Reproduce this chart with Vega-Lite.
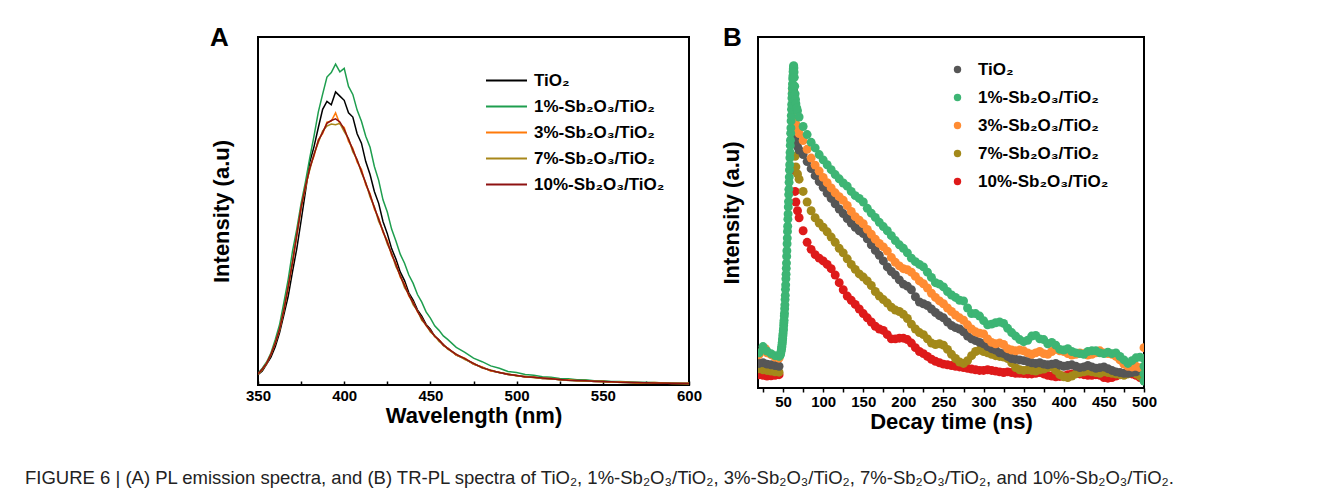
{
"$schema": "https://vega.github.io/schema/vega-lite/v6.json",
"background": "white",
"padding": {"left": 25, "top": 24, "right": 5, "bottom": 5},
"config": {
  "font": "Liberation Sans",
  "view": {"stroke": "#000", "strokeWidth": 2},
  "axis": {"labelFont": "Liberation Sans", "labelFontWeight": "bold", "labelFontSize": 15, "labelColor": "#000", "titleFont": "Liberation Sans", "titleFontWeight": "bold", "titleFontSize": 22, "titleColor": "#000", "grid": false, "domain": false, "tickColor": "#000", "tickWidth": 1.5},
  "legend": {"labelFont": "Liberation Sans", "labelFontWeight": "bold", "labelFontSize": 17, "labelColor": "#000", "labelLimit": 300}
},
"title": {"text": "FIGURE 6 | (A) PL emission spectra, and (B) TR-PL spectra of TiO₂, 1%-Sb₂O₃/TiO₂, 3%-Sb₂O₃/TiO₂, 7%-Sb₂O₃/TiO₂, and 10%-Sb₂O₃/TiO₂.", "orient": "bottom", "anchor": "start", "frame": "group", "font": "Liberation Sans", "fontSize": 18.5, "fontWeight": "normal", "color": "#222", "offset": 36, "dx": -233},
"spacing": 16,
"resolve": {"scale": {"color": "independent"}, "legend": {"color": "independent"}},
"hconcat": [
{
  "width": 431, "height": 348,
  "title": {"text": "A", "anchor": "start", "frame": "group", "fontSize": 26, "fontWeight": "bold", "font": "Liberation Sans", "color": "#000", "dx": -48, "offset": -35, "baseline": "alphabetic"},
  "data": {"values": [
{"sample":"TiO₂","wavelength":350,"intensity":30},{"sample":"TiO₂","wavelength":352.5,"intensity":40},{"sample":"TiO₂","wavelength":355,"intensity":60},{"sample":"TiO₂","wavelength":357.5,"intensity":80},{"sample":"TiO₂","wavelength":360,"intensity":110},{"sample":"TiO₂","wavelength":362.5,"intensity":150},{"sample":"TiO₂","wavelength":365,"intensity":202},{"sample":"TiO₂","wavelength":367.5,"intensity":255},{"sample":"TiO₂","wavelength":370,"intensity":325},{"sample":"TiO₂","wavelength":372.5,"intensity":392},{"sample":"TiO₂","wavelength":375,"intensity":472},{"sample":"TiO₂","wavelength":377.5,"intensity":555},{"sample":"TiO₂","wavelength":380,"intensity":640},{"sample":"TiO₂","wavelength":382.5,"intensity":685},{"sample":"TiO₂","wavelength":385,"intensity":740},{"sample":"TiO₂","wavelength":387.5,"intensity":792},{"sample":"TiO₂","wavelength":390,"intensity":815},{"sample":"TiO₂","wavelength":392.5,"intensity":805},{"sample":"TiO₂","wavelength":395,"intensity":842},{"sample":"TiO₂","wavelength":397.5,"intensity":830},{"sample":"TiO₂","wavelength":400,"intensity":818},{"sample":"TiO₂","wavelength":402.5,"intensity":782},{"sample":"TiO₂","wavelength":405,"intensity":770},{"sample":"TiO₂","wavelength":407.5,"intensity":722},{"sample":"TiO₂","wavelength":410,"intensity":695},{"sample":"TiO₂","wavelength":412.5,"intensity":642},{"sample":"TiO₂","wavelength":415,"intensity":605},{"sample":"TiO₂","wavelength":417.5,"intensity":556},{"sample":"TiO₂","wavelength":420,"intensity":522},{"sample":"TiO₂","wavelength":422.5,"intensity":470},{"sample":"TiO₂","wavelength":425,"intensity":435},{"sample":"TiO₂","wavelength":427.5,"intensity":392},{"sample":"TiO₂","wavelength":430,"intensity":362},{"sample":"TiO₂","wavelength":432.5,"intensity":325},{"sample":"TiO₂","wavelength":435,"intensity":300},{"sample":"TiO₂","wavelength":437.5,"intensity":265},{"sample":"TiO₂","wavelength":440,"intensity":244},{"sample":"TiO₂","wavelength":442.5,"intensity":216},{"sample":"TiO₂","wavelength":445,"intensity":198},{"sample":"TiO₂","wavelength":447.5,"intensity":174},{"sample":"TiO₂","wavelength":450,"intensity":160},{"sample":"TiO₂","wavelength":452.5,"intensity":140},{"sample":"TiO₂","wavelength":455,"intensity":130},{"sample":"TiO₂","wavelength":457.5,"intensity":114},{"sample":"TiO₂","wavelength":460,"intensity":106},{"sample":"TiO₂","wavelength":465,"intensity":86},{"sample":"TiO₂","wavelength":470,"intensity":75},{"sample":"TiO₂","wavelength":475,"intensity":60},{"sample":"TiO₂","wavelength":480,"intensity":51},{"sample":"TiO₂","wavelength":485,"intensity":41},{"sample":"TiO₂","wavelength":490,"intensity":36},{"sample":"TiO₂","wavelength":495,"intensity":30},{"sample":"TiO₂","wavelength":500,"intensity":27},{"sample":"TiO₂","wavelength":505,"intensity":23},{"sample":"TiO₂","wavelength":510,"intensity":22},{"sample":"TiO₂","wavelength":515,"intensity":19},{"sample":"TiO₂","wavelength":520,"intensity":18},{"sample":"TiO₂","wavelength":525,"intensity":15},{"sample":"TiO₂","wavelength":530,"intensity":14},{"sample":"TiO₂","wavelength":535,"intensity":12},{"sample":"TiO₂","wavelength":540,"intensity":12},{"sample":"TiO₂","wavelength":545,"intensity":10},{"sample":"TiO₂","wavelength":550,"intensity":10},{"sample":"TiO₂","wavelength":555,"intensity":8},{"sample":"TiO₂","wavelength":560,"intensity":8},{"sample":"TiO₂","wavelength":570,"intensity":6},{"sample":"TiO₂","wavelength":580,"intensity":6},{"sample":"TiO₂","wavelength":590,"intensity":4},{"sample":"TiO₂","wavelength":600,"intensity":4},
{"sample":"1%-Sb₂O₃/TiO₂","wavelength":350,"intensity":33},{"sample":"1%-Sb₂O₃/TiO₂","wavelength":352.5,"intensity":48},{"sample":"1%-Sb₂O₃/TiO₂","wavelength":355,"intensity":66},{"sample":"1%-Sb₂O₃/TiO₂","wavelength":357.5,"intensity":92},{"sample":"1%-Sb₂O₃/TiO₂","wavelength":360,"intensity":130},{"sample":"1%-Sb₂O₃/TiO₂","wavelength":362.5,"intensity":173},{"sample":"1%-Sb₂O₃/TiO₂","wavelength":365,"intensity":237},{"sample":"1%-Sb₂O₃/TiO₂","wavelength":367.5,"intensity":303},{"sample":"1%-Sb₂O₃/TiO₂","wavelength":370,"intensity":384},{"sample":"1%-Sb₂O₃/TiO₂","wavelength":372.5,"intensity":448},{"sample":"1%-Sb₂O₃/TiO₂","wavelength":375,"intensity":522},{"sample":"1%-Sb₂O₃/TiO₂","wavelength":377.5,"intensity":583},{"sample":"1%-Sb₂O₃/TiO₂","wavelength":380,"intensity":652},{"sample":"1%-Sb₂O₃/TiO₂","wavelength":382.5,"intensity":716},{"sample":"1%-Sb₂O₃/TiO₂","wavelength":385,"intensity":785},{"sample":"1%-Sb₂O₃/TiO₂","wavelength":387.5,"intensity":836},{"sample":"1%-Sb₂O₃/TiO₂","wavelength":390,"intensity":885},{"sample":"1%-Sb₂O₃/TiO₂","wavelength":392.5,"intensity":898},{"sample":"1%-Sb₂O₃/TiO₂","wavelength":395,"intensity":922},{"sample":"1%-Sb₂O₃/TiO₂","wavelength":397.5,"intensity":900},{"sample":"1%-Sb₂O₃/TiO₂","wavelength":400,"intensity":910},{"sample":"1%-Sb₂O₃/TiO₂","wavelength":402.5,"intensity":858},{"sample":"1%-Sb₂O₃/TiO₂","wavelength":405,"intensity":835},{"sample":"1%-Sb₂O₃/TiO₂","wavelength":407.5,"intensity":790},{"sample":"1%-Sb₂O₃/TiO₂","wavelength":410,"intensity":758},{"sample":"1%-Sb₂O₃/TiO₂","wavelength":412.5,"intensity":715},{"sample":"1%-Sb₂O₃/TiO₂","wavelength":415,"intensity":683},{"sample":"1%-Sb₂O₃/TiO₂","wavelength":417.5,"intensity":628},{"sample":"1%-Sb₂O₃/TiO₂","wavelength":420,"intensity":588},{"sample":"1%-Sb₂O₃/TiO₂","wavelength":422.5,"intensity":532},{"sample":"1%-Sb₂O₃/TiO₂","wavelength":425,"intensity":497},{"sample":"1%-Sb₂O₃/TiO₂","wavelength":427.5,"intensity":448},{"sample":"1%-Sb₂O₃/TiO₂","wavelength":430,"intensity":414},{"sample":"1%-Sb₂O₃/TiO₂","wavelength":432.5,"intensity":376},{"sample":"1%-Sb₂O₃/TiO₂","wavelength":435,"intensity":350},{"sample":"1%-Sb₂O₃/TiO₂","wavelength":437.5,"intensity":316},{"sample":"1%-Sb₂O₃/TiO₂","wavelength":440,"intensity":292},{"sample":"1%-Sb₂O₃/TiO₂","wavelength":442.5,"intensity":260},{"sample":"1%-Sb₂O₃/TiO₂","wavelength":445,"intensity":238},{"sample":"1%-Sb₂O₃/TiO₂","wavelength":447.5,"intensity":210},{"sample":"1%-Sb₂O₃/TiO₂","wavelength":450,"intensity":192},{"sample":"1%-Sb₂O₃/TiO₂","wavelength":452.5,"intensity":170},{"sample":"1%-Sb₂O₃/TiO₂","wavelength":455,"intensity":157},{"sample":"1%-Sb₂O₃/TiO₂","wavelength":457.5,"intensity":141},{"sample":"1%-Sb₂O₃/TiO₂","wavelength":460,"intensity":131},{"sample":"1%-Sb₂O₃/TiO₂","wavelength":465,"intensity":108},{"sample":"1%-Sb₂O₃/TiO₂","wavelength":470,"intensity":94},{"sample":"1%-Sb₂O₃/TiO₂","wavelength":475,"intensity":77},{"sample":"1%-Sb₂O₃/TiO₂","wavelength":480,"intensity":67},{"sample":"1%-Sb₂O₃/TiO₂","wavelength":485,"intensity":55},{"sample":"1%-Sb₂O₃/TiO₂","wavelength":490,"intensity":48},{"sample":"1%-Sb₂O₃/TiO₂","wavelength":495,"intensity":39},{"sample":"1%-Sb₂O₃/TiO₂","wavelength":500,"intensity":36},{"sample":"1%-Sb₂O₃/TiO₂","wavelength":505,"intensity":30},{"sample":"1%-Sb₂O₃/TiO₂","wavelength":510,"intensity":28},{"sample":"1%-Sb₂O₃/TiO₂","wavelength":515,"intensity":24},{"sample":"1%-Sb₂O₃/TiO₂","wavelength":520,"intensity":22},{"sample":"1%-Sb₂O₃/TiO₂","wavelength":525,"intensity":19},{"sample":"1%-Sb₂O₃/TiO₂","wavelength":530,"intensity":18},{"sample":"1%-Sb₂O₃/TiO₂","wavelength":535,"intensity":15},{"sample":"1%-Sb₂O₃/TiO₂","wavelength":540,"intensity":15},{"sample":"1%-Sb₂O₃/TiO₂","wavelength":545,"intensity":12},{"sample":"1%-Sb₂O₃/TiO₂","wavelength":550,"intensity":12},{"sample":"1%-Sb₂O₃/TiO₂","wavelength":555,"intensity":10},{"sample":"1%-Sb₂O₃/TiO₂","wavelength":560,"intensity":10},{"sample":"1%-Sb₂O₃/TiO₂","wavelength":570,"intensity":8},{"sample":"1%-Sb₂O₃/TiO₂","wavelength":580,"intensity":7},{"sample":"1%-Sb₂O₃/TiO₂","wavelength":590,"intensity":5},{"sample":"1%-Sb₂O₃/TiO₂","wavelength":600,"intensity":5},
{"sample":"3%-Sb₂O₃/TiO₂","wavelength":350,"intensity":32},{"sample":"3%-Sb₂O₃/TiO₂","wavelength":352.5,"intensity":44},{"sample":"3%-Sb₂O₃/TiO₂","wavelength":355,"intensity":63},{"sample":"3%-Sb₂O₃/TiO₂","wavelength":357.5,"intensity":87},{"sample":"3%-Sb₂O₃/TiO₂","wavelength":360,"intensity":121},{"sample":"3%-Sb₂O₃/TiO₂","wavelength":362.5,"intensity":158},{"sample":"3%-Sb₂O₃/TiO₂","wavelength":365,"intensity":214},{"sample":"3%-Sb₂O₃/TiO₂","wavelength":367.5,"intensity":280},{"sample":"3%-Sb₂O₃/TiO₂","wavelength":370,"intensity":350},{"sample":"3%-Sb₂O₃/TiO₂","wavelength":372.5,"intensity":430},{"sample":"3%-Sb₂O₃/TiO₂","wavelength":375,"intensity":508},{"sample":"3%-Sb₂O₃/TiO₂","wavelength":377.5,"intensity":566},{"sample":"3%-Sb₂O₃/TiO₂","wavelength":380,"intensity":624},{"sample":"3%-Sb₂O₃/TiO₂","wavelength":382.5,"intensity":658},{"sample":"3%-Sb₂O₃/TiO₂","wavelength":385,"intensity":705},{"sample":"3%-Sb₂O₃/TiO₂","wavelength":387.5,"intensity":722},{"sample":"3%-Sb₂O₃/TiO₂","wavelength":390,"intensity":755},{"sample":"3%-Sb₂O₃/TiO₂","wavelength":392.5,"intensity":758},{"sample":"3%-Sb₂O₃/TiO₂","wavelength":395,"intensity":782},{"sample":"3%-Sb₂O₃/TiO₂","wavelength":397.5,"intensity":750},{"sample":"3%-Sb₂O₃/TiO₂","wavelength":400,"intensity":740},{"sample":"3%-Sb₂O₃/TiO₂","wavelength":402.5,"intensity":700},{"sample":"3%-Sb₂O₃/TiO₂","wavelength":405,"intensity":680},{"sample":"3%-Sb₂O₃/TiO₂","wavelength":407.5,"intensity":640},{"sample":"3%-Sb₂O₃/TiO₂","wavelength":410,"intensity":620},{"sample":"3%-Sb₂O₃/TiO₂","wavelength":412.5,"intensity":575},{"sample":"3%-Sb₂O₃/TiO₂","wavelength":415,"intensity":550},{"sample":"3%-Sb₂O₃/TiO₂","wavelength":417.5,"intensity":505},{"sample":"3%-Sb₂O₃/TiO₂","wavelength":420,"intensity":480},{"sample":"3%-Sb₂O₃/TiO₂","wavelength":422.5,"intensity":438},{"sample":"3%-Sb₂O₃/TiO₂","wavelength":425,"intensity":415},{"sample":"3%-Sb₂O₃/TiO₂","wavelength":427.5,"intensity":372},{"sample":"3%-Sb₂O₃/TiO₂","wavelength":430,"intensity":350},{"sample":"3%-Sb₂O₃/TiO₂","wavelength":432.5,"intensity":310},{"sample":"3%-Sb₂O₃/TiO₂","wavelength":435,"intensity":290},{"sample":"3%-Sb₂O₃/TiO₂","wavelength":437.5,"intensity":255},{"sample":"3%-Sb₂O₃/TiO₂","wavelength":440,"intensity":238},{"sample":"3%-Sb₂O₃/TiO₂","wavelength":442.5,"intensity":210},{"sample":"3%-Sb₂O₃/TiO₂","wavelength":445,"intensity":192},{"sample":"3%-Sb₂O₃/TiO₂","wavelength":447.5,"intensity":170},{"sample":"3%-Sb₂O₃/TiO₂","wavelength":450,"intensity":157},{"sample":"3%-Sb₂O₃/TiO₂","wavelength":452.5,"intensity":139},{"sample":"3%-Sb₂O₃/TiO₂","wavelength":455,"intensity":130},{"sample":"3%-Sb₂O₃/TiO₂","wavelength":457.5,"intensity":114},{"sample":"3%-Sb₂O₃/TiO₂","wavelength":460,"intensity":106},{"sample":"3%-Sb₂O₃/TiO₂","wavelength":465,"intensity":86},{"sample":"3%-Sb₂O₃/TiO₂","wavelength":470,"intensity":77},{"sample":"3%-Sb₂O₃/TiO₂","wavelength":475,"intensity":60},{"sample":"3%-Sb₂O₃/TiO₂","wavelength":480,"intensity":52},{"sample":"3%-Sb₂O₃/TiO₂","wavelength":485,"intensity":40},{"sample":"3%-Sb₂O₃/TiO₂","wavelength":490,"intensity":37},{"sample":"3%-Sb₂O₃/TiO₂","wavelength":495,"intensity":30},{"sample":"3%-Sb₂O₃/TiO₂","wavelength":500,"intensity":28},{"sample":"3%-Sb₂O₃/TiO₂","wavelength":505,"intensity":23},{"sample":"3%-Sb₂O₃/TiO₂","wavelength":510,"intensity":23},{"sample":"3%-Sb₂O₃/TiO₂","wavelength":515,"intensity":19},{"sample":"3%-Sb₂O₃/TiO₂","wavelength":520,"intensity":19},{"sample":"3%-Sb₂O₃/TiO₂","wavelength":525,"intensity":15},{"sample":"3%-Sb₂O₃/TiO₂","wavelength":530,"intensity":15},{"sample":"3%-Sb₂O₃/TiO₂","wavelength":535,"intensity":12},{"sample":"3%-Sb₂O₃/TiO₂","wavelength":540,"intensity":13},{"sample":"3%-Sb₂O₃/TiO₂","wavelength":545,"intensity":10},{"sample":"3%-Sb₂O₃/TiO₂","wavelength":550,"intensity":11},{"sample":"3%-Sb₂O₃/TiO₂","wavelength":555,"intensity":8},{"sample":"3%-Sb₂O₃/TiO₂","wavelength":560,"intensity":9},{"sample":"3%-Sb₂O₃/TiO₂","wavelength":570,"intensity":6},{"sample":"3%-Sb₂O₃/TiO₂","wavelength":580,"intensity":7},{"sample":"3%-Sb₂O₃/TiO₂","wavelength":590,"intensity":4},{"sample":"3%-Sb₂O₃/TiO₂","wavelength":600,"intensity":5},
{"sample":"7%-Sb₂O₃/TiO₂","wavelength":350,"intensity":31},{"sample":"7%-Sb₂O₃/TiO₂","wavelength":352.5,"intensity":45},{"sample":"7%-Sb₂O₃/TiO₂","wavelength":355,"intensity":61},{"sample":"7%-Sb₂O₃/TiO₂","wavelength":357.5,"intensity":89},{"sample":"7%-Sb₂O₃/TiO₂","wavelength":360,"intensity":119},{"sample":"7%-Sb₂O₃/TiO₂","wavelength":362.5,"intensity":161},{"sample":"7%-Sb₂O₃/TiO₂","wavelength":365,"intensity":216},{"sample":"7%-Sb₂O₃/TiO₂","wavelength":367.5,"intensity":283},{"sample":"7%-Sb₂O₃/TiO₂","wavelength":370,"intensity":353},{"sample":"7%-Sb₂O₃/TiO₂","wavelength":372.5,"intensity":433},{"sample":"7%-Sb₂O₃/TiO₂","wavelength":375,"intensity":511},{"sample":"7%-Sb₂O₃/TiO₂","wavelength":377.5,"intensity":571},{"sample":"7%-Sb₂O₃/TiO₂","wavelength":380,"intensity":618},{"sample":"7%-Sb₂O₃/TiO₂","wavelength":382.5,"intensity":664},{"sample":"7%-Sb₂O₃/TiO₂","wavelength":385,"intensity":697},{"sample":"7%-Sb₂O₃/TiO₂","wavelength":387.5,"intensity":730},{"sample":"7%-Sb₂O₃/TiO₂","wavelength":390,"intensity":744},{"sample":"7%-Sb₂O₃/TiO₂","wavelength":392.5,"intensity":750},{"sample":"7%-Sb₂O₃/TiO₂","wavelength":395,"intensity":748},{"sample":"7%-Sb₂O₃/TiO₂","wavelength":397.5,"intensity":752},{"sample":"7%-Sb₂O₃/TiO₂","wavelength":400,"intensity":728},{"sample":"7%-Sb₂O₃/TiO₂","wavelength":402.5,"intensity":708},{"sample":"7%-Sb₂O₃/TiO₂","wavelength":405,"intensity":670},{"sample":"7%-Sb₂O₃/TiO₂","wavelength":407.5,"intensity":648},{"sample":"7%-Sb₂O₃/TiO₂","wavelength":410,"intensity":610},{"sample":"7%-Sb₂O₃/TiO₂","wavelength":412.5,"intensity":582},{"sample":"7%-Sb₂O₃/TiO₂","wavelength":415,"intensity":540},{"sample":"7%-Sb₂O₃/TiO₂","wavelength":417.5,"intensity":512},{"sample":"7%-Sb₂O₃/TiO₂","wavelength":420,"intensity":470},{"sample":"7%-Sb₂O₃/TiO₂","wavelength":422.5,"intensity":444},{"sample":"7%-Sb₂O₃/TiO₂","wavelength":425,"intensity":405},{"sample":"7%-Sb₂O₃/TiO₂","wavelength":427.5,"intensity":379},{"sample":"7%-Sb₂O₃/TiO₂","wavelength":430,"intensity":340},{"sample":"7%-Sb₂O₃/TiO₂","wavelength":432.5,"intensity":316},{"sample":"7%-Sb₂O₃/TiO₂","wavelength":435,"intensity":280},{"sample":"7%-Sb₂O₃/TiO₂","wavelength":437.5,"intensity":261},{"sample":"7%-Sb₂O₃/TiO₂","wavelength":440,"intensity":230},{"sample":"7%-Sb₂O₃/TiO₂","wavelength":442.5,"intensity":214},{"sample":"7%-Sb₂O₃/TiO₂","wavelength":445,"intensity":186},{"sample":"7%-Sb₂O₃/TiO₂","wavelength":447.5,"intensity":173},{"sample":"7%-Sb₂O₃/TiO₂","wavelength":450,"intensity":152},{"sample":"7%-Sb₂O₃/TiO₂","wavelength":452.5,"intensity":142},{"sample":"7%-Sb₂O₃/TiO₂","wavelength":455,"intensity":125},{"sample":"7%-Sb₂O₃/TiO₂","wavelength":457.5,"intensity":117},{"sample":"7%-Sb₂O₃/TiO₂","wavelength":460,"intensity":103},{"sample":"7%-Sb₂O₃/TiO₂","wavelength":465,"intensity":89},{"sample":"7%-Sb₂O₃/TiO₂","wavelength":470,"intensity":73},{"sample":"7%-Sb₂O₃/TiO₂","wavelength":475,"intensity":63},{"sample":"7%-Sb₂O₃/TiO₂","wavelength":480,"intensity":49},{"sample":"7%-Sb₂O₃/TiO₂","wavelength":485,"intensity":43},{"sample":"7%-Sb₂O₃/TiO₂","wavelength":490,"intensity":35},{"sample":"7%-Sb₂O₃/TiO₂","wavelength":495,"intensity":32},{"sample":"7%-Sb₂O₃/TiO₂","wavelength":500,"intensity":26},{"sample":"7%-Sb₂O₃/TiO₂","wavelength":505,"intensity":25},{"sample":"7%-Sb₂O₃/TiO₂","wavelength":510,"intensity":21},{"sample":"7%-Sb₂O₃/TiO₂","wavelength":515,"intensity":20},{"sample":"7%-Sb₂O₃/TiO₂","wavelength":520,"intensity":17},{"sample":"7%-Sb₂O₃/TiO₂","wavelength":525,"intensity":16},{"sample":"7%-Sb₂O₃/TiO₂","wavelength":530,"intensity":13},{"sample":"7%-Sb₂O₃/TiO₂","wavelength":535,"intensity":13},{"sample":"7%-Sb₂O₃/TiO₂","wavelength":540,"intensity":11},{"sample":"7%-Sb₂O₃/TiO₂","wavelength":545,"intensity":11},{"sample":"7%-Sb₂O₃/TiO₂","wavelength":550,"intensity":9},{"sample":"7%-Sb₂O₃/TiO₂","wavelength":555,"intensity":9},{"sample":"7%-Sb₂O₃/TiO₂","wavelength":560,"intensity":7},{"sample":"7%-Sb₂O₃/TiO₂","wavelength":570,"intensity":7},{"sample":"7%-Sb₂O₃/TiO₂","wavelength":580,"intensity":5},{"sample":"7%-Sb₂O₃/TiO₂","wavelength":590,"intensity":5},{"sample":"7%-Sb₂O₃/TiO₂","wavelength":600,"intensity":3},
{"sample":"10%-Sb₂O₃/TiO₂","wavelength":350,"intensity":32},{"sample":"10%-Sb₂O₃/TiO₂","wavelength":352.5,"intensity":46},{"sample":"10%-Sb₂O₃/TiO₂","wavelength":355,"intensity":62},{"sample":"10%-Sb₂O₃/TiO₂","wavelength":357.5,"intensity":88},{"sample":"10%-Sb₂O₃/TiO₂","wavelength":360,"intensity":120},{"sample":"10%-Sb₂O₃/TiO₂","wavelength":362.5,"intensity":160},{"sample":"10%-Sb₂O₃/TiO₂","wavelength":365,"intensity":215},{"sample":"10%-Sb₂O₃/TiO₂","wavelength":367.5,"intensity":282},{"sample":"10%-Sb₂O₃/TiO₂","wavelength":370,"intensity":352},{"sample":"10%-Sb₂O₃/TiO₂","wavelength":372.5,"intensity":432},{"sample":"10%-Sb₂O₃/TiO₂","wavelength":375,"intensity":510},{"sample":"10%-Sb₂O₃/TiO₂","wavelength":377.5,"intensity":570},{"sample":"10%-Sb₂O₃/TiO₂","wavelength":380,"intensity":622},{"sample":"10%-Sb₂O₃/TiO₂","wavelength":382.5,"intensity":662},{"sample":"10%-Sb₂O₃/TiO₂","wavelength":385,"intensity":702},{"sample":"10%-Sb₂O₃/TiO₂","wavelength":387.5,"intensity":726},{"sample":"10%-Sb₂O₃/TiO₂","wavelength":390,"intensity":752},{"sample":"10%-Sb₂O₃/TiO₂","wavelength":392.5,"intensity":760},{"sample":"10%-Sb₂O₃/TiO₂","wavelength":395,"intensity":765},{"sample":"10%-Sb₂O₃/TiO₂","wavelength":397.5,"intensity":756},{"sample":"10%-Sb₂O₃/TiO₂","wavelength":400,"intensity":735},{"sample":"10%-Sb₂O₃/TiO₂","wavelength":402.5,"intensity":706},{"sample":"10%-Sb₂O₃/TiO₂","wavelength":405,"intensity":676},{"sample":"10%-Sb₂O₃/TiO₂","wavelength":407.5,"intensity":646},{"sample":"10%-Sb₂O₃/TiO₂","wavelength":410,"intensity":614},{"sample":"10%-Sb₂O₃/TiO₂","wavelength":412.5,"intensity":580},{"sample":"10%-Sb₂O₃/TiO₂","wavelength":415,"intensity":546},{"sample":"10%-Sb₂O₃/TiO₂","wavelength":417.5,"intensity":510},{"sample":"10%-Sb₂O₃/TiO₂","wavelength":420,"intensity":476},{"sample":"10%-Sb₂O₃/TiO₂","wavelength":422.5,"intensity":442},{"sample":"10%-Sb₂O₃/TiO₂","wavelength":425,"intensity":410},{"sample":"10%-Sb₂O₃/TiO₂","wavelength":427.5,"intensity":377},{"sample":"10%-Sb₂O₃/TiO₂","wavelength":430,"intensity":346},{"sample":"10%-Sb₂O₃/TiO₂","wavelength":432.5,"intensity":314},{"sample":"10%-Sb₂O₃/TiO₂","wavelength":435,"intensity":286},{"sample":"10%-Sb₂O₃/TiO₂","wavelength":437.5,"intensity":259},{"sample":"10%-Sb₂O₃/TiO₂","wavelength":440,"intensity":236},{"sample":"10%-Sb₂O₃/TiO₂","wavelength":442.5,"intensity":212},{"sample":"10%-Sb₂O₃/TiO₂","wavelength":445,"intensity":191},{"sample":"10%-Sb₂O₃/TiO₂","wavelength":447.5,"intensity":172},{"sample":"10%-Sb₂O₃/TiO₂","wavelength":450,"intensity":156},{"sample":"10%-Sb₂O₃/TiO₂","wavelength":452.5,"intensity":141},{"sample":"10%-Sb₂O₃/TiO₂","wavelength":455,"intensity":129},{"sample":"10%-Sb₂O₃/TiO₂","wavelength":457.5,"intensity":116},{"sample":"10%-Sb₂O₃/TiO₂","wavelength":460,"intensity":105},{"sample":"10%-Sb₂O₃/TiO₂","wavelength":465,"intensity":88},{"sample":"10%-Sb₂O₃/TiO₂","wavelength":470,"intensity":76},{"sample":"10%-Sb₂O₃/TiO₂","wavelength":475,"intensity":62},{"sample":"10%-Sb₂O₃/TiO₂","wavelength":480,"intensity":50},{"sample":"10%-Sb₂O₃/TiO₂","wavelength":485,"intensity":42},{"sample":"10%-Sb₂O₃/TiO₂","wavelength":490,"intensity":36},{"sample":"10%-Sb₂O₃/TiO₂","wavelength":495,"intensity":31},{"sample":"10%-Sb₂O₃/TiO₂","wavelength":500,"intensity":27},{"sample":"10%-Sb₂O₃/TiO₂","wavelength":505,"intensity":24},{"sample":"10%-Sb₂O₃/TiO₂","wavelength":510,"intensity":22},{"sample":"10%-Sb₂O₃/TiO₂","wavelength":515,"intensity":20},{"sample":"10%-Sb₂O₃/TiO₂","wavelength":520,"intensity":18},{"sample":"10%-Sb₂O₃/TiO₂","wavelength":525,"intensity":16},{"sample":"10%-Sb₂O₃/TiO₂","wavelength":530,"intensity":14},{"sample":"10%-Sb₂O₃/TiO₂","wavelength":535,"intensity":13},{"sample":"10%-Sb₂O₃/TiO₂","wavelength":540,"intensity":12},{"sample":"10%-Sb₂O₃/TiO₂","wavelength":545,"intensity":11},{"sample":"10%-Sb₂O₃/TiO₂","wavelength":550,"intensity":10},{"sample":"10%-Sb₂O₃/TiO₂","wavelength":555,"intensity":9},{"sample":"10%-Sb₂O₃/TiO₂","wavelength":560,"intensity":8},{"sample":"10%-Sb₂O₃/TiO₂","wavelength":570,"intensity":7},{"sample":"10%-Sb₂O₃/TiO₂","wavelength":580,"intensity":6},{"sample":"10%-Sb₂O₃/TiO₂","wavelength":590,"intensity":5},{"sample":"10%-Sb₂O₃/TiO₂","wavelength":600,"intensity":4}
  ]},
  "mark": {"type": "line", "strokeWidth": 1.5, "clip": true},
  "encoding": {
    "x": {"field": "wavelength", "type": "quantitative", "scale": {"domain": [350, 600], "nice": false, "zero": false},
      "axis": {"title": "Wavelength (nm)", "values": [350,375,400,425,450,475,500,525,550,575,600], "labelExpr": "datum.value % 50 === 0 ? datum.label : ''", "tickSize": -4, "labelPadding": 7, "titlePadding": 2, "labelFlush": false, "labelOverlap": false}},
    "y": {"field": "intensity", "type": "quantitative", "scale": {"domain": [0, 1000], "nice": false},
      "axis": {"title": "Intensity (a.u)", "labels": false, "ticks": false, "titlePadding": 25}},
    "color": {"field": "sample", "type": "nominal",
      "scale": {"domain": ["TiO₂","1%-Sb₂O₃/TiO₂","3%-Sb₂O₃/TiO₂","7%-Sb₂O₃/TiO₂","10%-Sb₂O₃/TiO₂"], "range": ["#000000","#1e9e4e","#ff7a0a","#a8871a","#8e1212"]},
      "legend": {"title": null, "orient": "none", "legendX": 235, "legendY": 30, "symbolType": "M-1.64,0H1.64", "symbolSize": 625, "symbolStrokeWidth": 2, "symbolFillColor": "transparent", "labelOffset": 14, "rowPadding": 4, "padding": 0}}
  }
},
{
  "width": 386, "height": 351,
  "title": {"text": "B", "anchor": "start", "frame": "group", "fontSize": 26, "fontWeight": "bold", "font": "Liberation Sans", "color": "#000", "dx": -35, "offset": -35, "baseline": "alphabetic"},
  "data": {"values": [
{"sample":"10%-Sb₂O₃/TiO₂","time":20,"intensity":38},{"sample":"10%-Sb₂O₃/TiO₂","time":25,"intensity":36},{"sample":"10%-Sb₂O₃/TiO₂","time":30,"intensity":34},{"sample":"10%-Sb₂O₃/TiO₂","time":35,"intensity":35},{"sample":"10%-Sb₂O₃/TiO₂","time":40,"intensity":36},{"sample":"10%-Sb₂O₃/TiO₂","time":45,"intensity":38},{"sample":"10%-Sb₂O₃/TiO₂","time":62,"intensity":825},{"sample":"10%-Sb₂O₃/TiO₂","time":63,"intensity":835},{"sample":"10%-Sb₂O₃/TiO₂","time":64,"intensity":620},{"sample":"10%-Sb₂O₃/TiO₂","time":65,"intensity":560},{"sample":"10%-Sb₂O₃/TiO₂","time":66,"intensity":530},{"sample":"10%-Sb₂O₃/TiO₂","time":68,"intensity":505},{"sample":"10%-Sb₂O₃/TiO₂","time":70,"intensity":485},{"sample":"10%-Sb₂O₃/TiO₂","time":75,"intensity":448},{"sample":"10%-Sb₂O₃/TiO₂","time":80,"intensity":415},{"sample":"10%-Sb₂O₃/TiO₂","time":85,"intensity":395},{"sample":"10%-Sb₂O₃/TiO₂","time":90,"intensity":380},{"sample":"10%-Sb₂O₃/TiO₂","time":95,"intensity":370},{"sample":"10%-Sb₂O₃/TiO₂","time":100,"intensity":362},{"sample":"10%-Sb₂O₃/TiO₂","time":105,"intensity":352},{"sample":"10%-Sb₂O₃/TiO₂","time":110,"intensity":340},{"sample":"10%-Sb₂O₃/TiO₂","time":115,"intensity":322},{"sample":"10%-Sb₂O₃/TiO₂","time":120,"intensity":300},{"sample":"10%-Sb₂O₃/TiO₂","time":125,"intensity":280},{"sample":"10%-Sb₂O₃/TiO₂","time":130,"intensity":262},{"sample":"10%-Sb₂O₃/TiO₂","time":135,"intensity":250},{"sample":"10%-Sb₂O₃/TiO₂","time":140,"intensity":238},{"sample":"10%-Sb₂O₃/TiO₂","time":145,"intensity":225},{"sample":"10%-Sb₂O₃/TiO₂","time":150,"intensity":212},{"sample":"10%-Sb₂O₃/TiO₂","time":155,"intensity":200},{"sample":"10%-Sb₂O₃/TiO₂","time":160,"intensity":188},{"sample":"10%-Sb₂O₃/TiO₂","time":165,"intensity":176},{"sample":"10%-Sb₂O₃/TiO₂","time":170,"intensity":168},{"sample":"10%-Sb₂O₃/TiO₂","time":175,"intensity":164},{"sample":"10%-Sb₂O₃/TiO₂","time":180,"intensity":152},{"sample":"10%-Sb₂O₃/TiO₂","time":185,"intensity":140},{"sample":"10%-Sb₂O₃/TiO₂","time":190,"intensity":140},{"sample":"10%-Sb₂O₃/TiO₂","time":195,"intensity":142},{"sample":"10%-Sb₂O₃/TiO₂","time":200,"intensity":142},{"sample":"10%-Sb₂O₃/TiO₂","time":205,"intensity":138},{"sample":"10%-Sb₂O₃/TiO₂","time":210,"intensity":128},{"sample":"10%-Sb₂O₃/TiO₂","time":215,"intensity":115},{"sample":"10%-Sb₂O₃/TiO₂","time":220,"intensity":104},{"sample":"10%-Sb₂O₃/TiO₂","time":225,"intensity":98},{"sample":"10%-Sb₂O₃/TiO₂","time":230,"intensity":90},{"sample":"10%-Sb₂O₃/TiO₂","time":235,"intensity":82},{"sample":"10%-Sb₂O₃/TiO₂","time":240,"intensity":76},{"sample":"10%-Sb₂O₃/TiO₂","time":245,"intensity":72},{"sample":"10%-Sb₂O₃/TiO₂","time":250,"intensity":68},{"sample":"10%-Sb₂O₃/TiO₂","time":255,"intensity":66},{"sample":"10%-Sb₂O₃/TiO₂","time":260,"intensity":64},{"sample":"10%-Sb₂O₃/TiO₂","time":265,"intensity":62},{"sample":"10%-Sb₂O₃/TiO₂","time":270,"intensity":60},{"sample":"10%-Sb₂O₃/TiO₂","time":275,"intensity":58},{"sample":"10%-Sb₂O₃/TiO₂","time":280,"intensity":56},{"sample":"10%-Sb₂O₃/TiO₂","time":285,"intensity":54},{"sample":"10%-Sb₂O₃/TiO₂","time":290,"intensity":52},{"sample":"10%-Sb₂O₃/TiO₂","time":295,"intensity":50},{"sample":"10%-Sb₂O₃/TiO₂","time":300,"intensity":50},{"sample":"10%-Sb₂O₃/TiO₂","time":305,"intensity":52},{"sample":"10%-Sb₂O₃/TiO₂","time":310,"intensity":50},{"sample":"10%-Sb₂O₃/TiO₂","time":315,"intensity":48},{"sample":"10%-Sb₂O₃/TiO₂","time":320,"intensity":46},{"sample":"10%-Sb₂O₃/TiO₂","time":325,"intensity":44},{"sample":"10%-Sb₂O₃/TiO₂","time":330,"intensity":46},{"sample":"10%-Sb₂O₃/TiO₂","time":335,"intensity":44},{"sample":"10%-Sb₂O₃/TiO₂","time":340,"intensity":42},{"sample":"10%-Sb₂O₃/TiO₂","time":345,"intensity":42},{"sample":"10%-Sb₂O₃/TiO₂","time":350,"intensity":41},{"sample":"10%-Sb₂O₃/TiO₂","time":355,"intensity":40},{"sample":"10%-Sb₂O₃/TiO₂","time":360,"intensity":40},{"sample":"10%-Sb₂O₃/TiO₂","time":365,"intensity":42},{"sample":"10%-Sb₂O₃/TiO₂","time":370,"intensity":44},{"sample":"10%-Sb₂O₃/TiO₂","time":375,"intensity":40},{"sample":"10%-Sb₂O₃/TiO₂","time":380,"intensity":36},{"sample":"10%-Sb₂O₃/TiO₂","time":385,"intensity":34},{"sample":"10%-Sb₂O₃/TiO₂","time":390,"intensity":32},{"sample":"10%-Sb₂O₃/TiO₂","time":395,"intensity":33},{"sample":"10%-Sb₂O₃/TiO₂","time":400,"intensity":34},{"sample":"10%-Sb₂O₃/TiO₂","time":405,"intensity":38},{"sample":"10%-Sb₂O₃/TiO₂","time":410,"intensity":40},{"sample":"10%-Sb₂O₃/TiO₂","time":415,"intensity":42},{"sample":"10%-Sb₂O₃/TiO₂","time":420,"intensity":40},{"sample":"10%-Sb₂O₃/TiO₂","time":425,"intensity":38},{"sample":"10%-Sb₂O₃/TiO₂","time":430,"intensity":36},{"sample":"10%-Sb₂O₃/TiO₂","time":435,"intensity":36},{"sample":"10%-Sb₂O₃/TiO₂","time":440,"intensity":38},{"sample":"10%-Sb₂O₃/TiO₂","time":445,"intensity":36},{"sample":"10%-Sb₂O₃/TiO₂","time":450,"intensity":30},{"sample":"10%-Sb₂O₃/TiO₂","time":455,"intensity":28},{"sample":"10%-Sb₂O₃/TiO₂","time":460,"intensity":30},{"sample":"10%-Sb₂O₃/TiO₂","time":465,"intensity":34},{"sample":"10%-Sb₂O₃/TiO₂","time":470,"intensity":38},{"sample":"10%-Sb₂O₃/TiO₂","time":475,"intensity":40},{"sample":"10%-Sb₂O₃/TiO₂","time":480,"intensity":42},{"sample":"10%-Sb₂O₃/TiO₂","time":485,"intensity":40},{"sample":"10%-Sb₂O₃/TiO₂","time":490,"intensity":36},{"sample":"10%-Sb₂O₃/TiO₂","time":495,"intensity":30},{"sample":"10%-Sb₂O₃/TiO₂","time":500,"intensity":22},
{"sample":"7%-Sb₂O₃/TiO₂","time":20,"intensity":55},{"sample":"7%-Sb₂O₃/TiO₂","time":25,"intensity":52},{"sample":"7%-Sb₂O₃/TiO₂","time":30,"intensity":50},{"sample":"7%-Sb₂O₃/TiO₂","time":35,"intensity":48},{"sample":"7%-Sb₂O₃/TiO₂","time":40,"intensity":46},{"sample":"7%-Sb₂O₃/TiO₂","time":45,"intensity":45},{"sample":"7%-Sb₂O₃/TiO₂","time":62,"intensity":835},{"sample":"7%-Sb₂O₃/TiO₂","time":63,"intensity":845},{"sample":"7%-Sb₂O₃/TiO₂","time":64,"intensity":700},{"sample":"7%-Sb₂O₃/TiO₂","time":65,"intensity":660},{"sample":"7%-Sb₂O₃/TiO₂","time":66,"intensity":630},{"sample":"7%-Sb₂O₃/TiO₂","time":68,"intensity":610},{"sample":"7%-Sb₂O₃/TiO₂","time":70,"intensity":595},{"sample":"7%-Sb₂O₃/TiO₂","time":75,"intensity":560},{"sample":"7%-Sb₂O₃/TiO₂","time":80,"intensity":530},{"sample":"7%-Sb₂O₃/TiO₂","time":85,"intensity":505},{"sample":"7%-Sb₂O₃/TiO₂","time":90,"intensity":485},{"sample":"7%-Sb₂O₃/TiO₂","time":95,"intensity":470},{"sample":"7%-Sb₂O₃/TiO₂","time":100,"intensity":458},{"sample":"7%-Sb₂O₃/TiO₂","time":105,"intensity":445},{"sample":"7%-Sb₂O₃/TiO₂","time":110,"intensity":430},{"sample":"7%-Sb₂O₃/TiO₂","time":115,"intensity":415},{"sample":"7%-Sb₂O₃/TiO₂","time":120,"intensity":398},{"sample":"7%-Sb₂O₃/TiO₂","time":125,"intensity":385},{"sample":"7%-Sb₂O₃/TiO₂","time":130,"intensity":368},{"sample":"7%-Sb₂O₃/TiO₂","time":135,"intensity":352},{"sample":"7%-Sb₂O₃/TiO₂","time":140,"intensity":338},{"sample":"7%-Sb₂O₃/TiO₂","time":145,"intensity":325},{"sample":"7%-Sb₂O₃/TiO₂","time":150,"intensity":316},{"sample":"7%-Sb₂O₃/TiO₂","time":155,"intensity":305},{"sample":"7%-Sb₂O₃/TiO₂","time":160,"intensity":292},{"sample":"7%-Sb₂O₃/TiO₂","time":165,"intensity":275},{"sample":"7%-Sb₂O₃/TiO₂","time":170,"intensity":262},{"sample":"7%-Sb₂O₃/TiO₂","time":175,"intensity":252},{"sample":"7%-Sb₂O₃/TiO₂","time":180,"intensity":242},{"sample":"7%-Sb₂O₃/TiO₂","time":185,"intensity":230},{"sample":"7%-Sb₂O₃/TiO₂","time":190,"intensity":222},{"sample":"7%-Sb₂O₃/TiO₂","time":195,"intensity":218},{"sample":"7%-Sb₂O₃/TiO₂","time":200,"intensity":210},{"sample":"7%-Sb₂O₃/TiO₂","time":205,"intensity":198},{"sample":"7%-Sb₂O₃/TiO₂","time":210,"intensity":182},{"sample":"7%-Sb₂O₃/TiO₂","time":215,"intensity":168},{"sample":"7%-Sb₂O₃/TiO₂","time":220,"intensity":158},{"sample":"7%-Sb₂O₃/TiO₂","time":225,"intensity":152},{"sample":"7%-Sb₂O₃/TiO₂","time":230,"intensity":140},{"sample":"7%-Sb₂O₃/TiO₂","time":235,"intensity":128},{"sample":"7%-Sb₂O₃/TiO₂","time":240,"intensity":124},{"sample":"7%-Sb₂O₃/TiO₂","time":245,"intensity":126},{"sample":"7%-Sb₂O₃/TiO₂","time":250,"intensity":122},{"sample":"7%-Sb₂O₃/TiO₂","time":255,"intensity":110},{"sample":"7%-Sb₂O₃/TiO₂","time":260,"intensity":96},{"sample":"7%-Sb₂O₃/TiO₂","time":265,"intensity":84},{"sample":"7%-Sb₂O₃/TiO₂","time":270,"intensity":74},{"sample":"7%-Sb₂O₃/TiO₂","time":275,"intensity":70},{"sample":"7%-Sb₂O₃/TiO₂","time":280,"intensity":78},{"sample":"7%-Sb₂O₃/TiO₂","time":285,"intensity":92},{"sample":"7%-Sb₂O₃/TiO₂","time":290,"intensity":104},{"sample":"7%-Sb₂O₃/TiO₂","time":295,"intensity":108},{"sample":"7%-Sb₂O₃/TiO₂","time":300,"intensity":104},{"sample":"7%-Sb₂O₃/TiO₂","time":305,"intensity":100},{"sample":"7%-Sb₂O₃/TiO₂","time":310,"intensity":96},{"sample":"7%-Sb₂O₃/TiO₂","time":315,"intensity":92},{"sample":"7%-Sb₂O₃/TiO₂","time":320,"intensity":90},{"sample":"7%-Sb₂O₃/TiO₂","time":325,"intensity":88},{"sample":"7%-Sb₂O₃/TiO₂","time":330,"intensity":84},{"sample":"7%-Sb₂O₃/TiO₂","time":335,"intensity":72},{"sample":"7%-Sb₂O₃/TiO₂","time":340,"intensity":58},{"sample":"7%-Sb₂O₃/TiO₂","time":345,"intensity":52},{"sample":"7%-Sb₂O₃/TiO₂","time":350,"intensity":50},{"sample":"7%-Sb₂O₃/TiO₂","time":355,"intensity":52},{"sample":"7%-Sb₂O₃/TiO₂","time":360,"intensity":50},{"sample":"7%-Sb₂O₃/TiO₂","time":365,"intensity":48},{"sample":"7%-Sb₂O₃/TiO₂","time":370,"intensity":52},{"sample":"7%-Sb₂O₃/TiO₂","time":375,"intensity":54},{"sample":"7%-Sb₂O₃/TiO₂","time":380,"intensity":58},{"sample":"7%-Sb₂O₃/TiO₂","time":385,"intensity":60},{"sample":"7%-Sb₂O₃/TiO₂","time":390,"intensity":50},{"sample":"7%-Sb₂O₃/TiO₂","time":395,"intensity":38},{"sample":"7%-Sb₂O₃/TiO₂","time":400,"intensity":32},{"sample":"7%-Sb₂O₃/TiO₂","time":405,"intensity":30},{"sample":"7%-Sb₂O₃/TiO₂","time":410,"intensity":34},{"sample":"7%-Sb₂O₃/TiO₂","time":415,"intensity":40},{"sample":"7%-Sb₂O₃/TiO₂","time":420,"intensity":44},{"sample":"7%-Sb₂O₃/TiO₂","time":425,"intensity":46},{"sample":"7%-Sb₂O₃/TiO₂","time":430,"intensity":48},{"sample":"7%-Sb₂O₃/TiO₂","time":435,"intensity":46},{"sample":"7%-Sb₂O₃/TiO₂","time":440,"intensity":44},{"sample":"7%-Sb₂O₃/TiO₂","time":445,"intensity":42},{"sample":"7%-Sb₂O₃/TiO₂","time":450,"intensity":46},{"sample":"7%-Sb₂O₃/TiO₂","time":455,"intensity":44},{"sample":"7%-Sb₂O₃/TiO₂","time":460,"intensity":42},{"sample":"7%-Sb₂O₃/TiO₂","time":465,"intensity":40},{"sample":"7%-Sb₂O₃/TiO₂","time":470,"intensity":38},{"sample":"7%-Sb₂O₃/TiO₂","time":475,"intensity":36},{"sample":"7%-Sb₂O₃/TiO₂","time":480,"intensity":40},{"sample":"7%-Sb₂O₃/TiO₂","time":485,"intensity":44},{"sample":"7%-Sb₂O₃/TiO₂","time":490,"intensity":40},{"sample":"7%-Sb₂O₃/TiO₂","time":495,"intensity":34},{"sample":"7%-Sb₂O₃/TiO₂","time":500,"intensity":25},
{"sample":"TiO₂","time":20,"intensity":70},{"sample":"TiO₂","time":25,"intensity":72},{"sample":"TiO₂","time":30,"intensity":68},{"sample":"TiO₂","time":35,"intensity":66},{"sample":"TiO₂","time":40,"intensity":64},{"sample":"TiO₂","time":45,"intensity":62},{"sample":"TiO₂","time":62,"intensity":840},{"sample":"TiO₂","time":63,"intensity":850},{"sample":"TiO₂","time":64,"intensity":735},{"sample":"TiO₂","time":65,"intensity":710},{"sample":"TiO₂","time":66,"intensity":700},{"sample":"TiO₂","time":68,"intensity":688},{"sample":"TiO₂","time":70,"intensity":678},{"sample":"TiO₂","time":75,"intensity":665},{"sample":"TiO₂","time":80,"intensity":645},{"sample":"TiO₂","time":85,"intensity":625},{"sample":"TiO₂","time":90,"intensity":605},{"sample":"TiO₂","time":95,"intensity":588},{"sample":"TiO₂","time":100,"intensity":572},{"sample":"TiO₂","time":105,"intensity":555},{"sample":"TiO₂","time":110,"intensity":540},{"sample":"TiO₂","time":115,"intensity":525},{"sample":"TiO₂","time":120,"intensity":510},{"sample":"TiO₂","time":125,"intensity":497},{"sample":"TiO₂","time":130,"intensity":483},{"sample":"TiO₂","time":135,"intensity":470},{"sample":"TiO₂","time":140,"intensity":458},{"sample":"TiO₂","time":145,"intensity":448},{"sample":"TiO₂","time":150,"intensity":440},{"sample":"TiO₂","time":155,"intensity":425},{"sample":"TiO₂","time":160,"intensity":408},{"sample":"TiO₂","time":165,"intensity":392},{"sample":"TiO₂","time":170,"intensity":378},{"sample":"TiO₂","time":175,"intensity":362},{"sample":"TiO₂","time":180,"intensity":345},{"sample":"TiO₂","time":185,"intensity":332},{"sample":"TiO₂","time":190,"intensity":322},{"sample":"TiO₂","time":195,"intensity":308},{"sample":"TiO₂","time":200,"intensity":296},{"sample":"TiO₂","time":205,"intensity":290},{"sample":"TiO₂","time":210,"intensity":280},{"sample":"TiO₂","time":215,"intensity":260},{"sample":"TiO₂","time":220,"intensity":245},{"sample":"TiO₂","time":225,"intensity":240},{"sample":"TiO₂","time":230,"intensity":235},{"sample":"TiO₂","time":235,"intensity":225},{"sample":"TiO₂","time":240,"intensity":215},{"sample":"TiO₂","time":245,"intensity":206},{"sample":"TiO₂","time":250,"intensity":200},{"sample":"TiO₂","time":255,"intensity":188},{"sample":"TiO₂","time":260,"intensity":178},{"sample":"TiO₂","time":265,"intensity":172},{"sample":"TiO₂","time":270,"intensity":168},{"sample":"TiO₂","time":275,"intensity":160},{"sample":"TiO₂","time":280,"intensity":148},{"sample":"TiO₂","time":285,"intensity":140},{"sample":"TiO₂","time":290,"intensity":135},{"sample":"TiO₂","time":295,"intensity":130},{"sample":"TiO₂","time":300,"intensity":126},{"sample":"TiO₂","time":305,"intensity":118},{"sample":"TiO₂","time":310,"intensity":112},{"sample":"TiO₂","time":315,"intensity":108},{"sample":"TiO₂","time":320,"intensity":100},{"sample":"TiO₂","time":325,"intensity":98},{"sample":"TiO₂","time":330,"intensity":90},{"sample":"TiO₂","time":335,"intensity":84},{"sample":"TiO₂","time":340,"intensity":82},{"sample":"TiO₂","time":345,"intensity":80},{"sample":"TiO₂","time":350,"intensity":78},{"sample":"TiO₂","time":355,"intensity":75},{"sample":"TiO₂","time":360,"intensity":72},{"sample":"TiO₂","time":365,"intensity":70},{"sample":"TiO₂","time":370,"intensity":72},{"sample":"TiO₂","time":375,"intensity":68},{"sample":"TiO₂","time":380,"intensity":66},{"sample":"TiO₂","time":385,"intensity":68},{"sample":"TiO₂","time":390,"intensity":70},{"sample":"TiO₂","time":395,"intensity":65},{"sample":"TiO₂","time":400,"intensity":62},{"sample":"TiO₂","time":405,"intensity":64},{"sample":"TiO₂","time":410,"intensity":66},{"sample":"TiO₂","time":415,"intensity":62},{"sample":"TiO₂","time":420,"intensity":58},{"sample":"TiO₂","time":425,"intensity":60},{"sample":"TiO₂","time":430,"intensity":64},{"sample":"TiO₂","time":435,"intensity":60},{"sample":"TiO₂","time":440,"intensity":56},{"sample":"TiO₂","time":445,"intensity":58},{"sample":"TiO₂","time":450,"intensity":60},{"sample":"TiO₂","time":455,"intensity":55},{"sample":"TiO₂","time":460,"intensity":50},{"sample":"TiO₂","time":465,"intensity":46},{"sample":"TiO₂","time":470,"intensity":44},{"sample":"TiO₂","time":475,"intensity":42},{"sample":"TiO₂","time":480,"intensity":42},{"sample":"TiO₂","time":485,"intensity":44},{"sample":"TiO₂","time":490,"intensity":46},{"sample":"TiO₂","time":495,"intensity":50},{"sample":"TiO₂","time":500,"intensity":55},
{"sample":"3%-Sb₂O₃/TiO₂","time":20,"intensity":95},{"sample":"3%-Sb₂O₃/TiO₂","time":25,"intensity":110},{"sample":"3%-Sb₂O₃/TiO₂","time":28,"intensity":112},{"sample":"3%-Sb₂O₃/TiO₂","time":30,"intensity":100},{"sample":"3%-Sb₂O₃/TiO₂","time":35,"intensity":95},{"sample":"3%-Sb₂O₃/TiO₂","time":40,"intensity":88},{"sample":"3%-Sb₂O₃/TiO₂","time":45,"intensity":85},{"sample":"3%-Sb₂O₃/TiO₂","time":62,"intensity":850},{"sample":"3%-Sb₂O₃/TiO₂","time":63,"intensity":860},{"sample":"3%-Sb₂O₃/TiO₂","time":64,"intensity":790},{"sample":"3%-Sb₂O₃/TiO₂","time":65,"intensity":765},{"sample":"3%-Sb₂O₃/TiO₂","time":66,"intensity":752},{"sample":"3%-Sb₂O₃/TiO₂","time":68,"intensity":738},{"sample":"3%-Sb₂O₃/TiO₂","time":70,"intensity":725},{"sample":"3%-Sb₂O₃/TiO₂","time":75,"intensity":705},{"sample":"3%-Sb₂O₃/TiO₂","time":80,"intensity":680},{"sample":"3%-Sb₂O₃/TiO₂","time":85,"intensity":655},{"sample":"3%-Sb₂O₃/TiO₂","time":90,"intensity":635},{"sample":"3%-Sb₂O₃/TiO₂","time":95,"intensity":618},{"sample":"3%-Sb₂O₃/TiO₂","time":100,"intensity":600},{"sample":"3%-Sb₂O₃/TiO₂","time":105,"intensity":585},{"sample":"3%-Sb₂O₃/TiO₂","time":110,"intensity":570},{"sample":"3%-Sb₂O₃/TiO₂","time":115,"intensity":556},{"sample":"3%-Sb₂O₃/TiO₂","time":120,"intensity":545},{"sample":"3%-Sb₂O₃/TiO₂","time":125,"intensity":535},{"sample":"3%-Sb₂O₃/TiO₂","time":130,"intensity":520},{"sample":"3%-Sb₂O₃/TiO₂","time":135,"intensity":503},{"sample":"3%-Sb₂O₃/TiO₂","time":140,"intensity":488},{"sample":"3%-Sb₂O₃/TiO₂","time":145,"intensity":478},{"sample":"3%-Sb₂O₃/TiO₂","time":150,"intensity":468},{"sample":"3%-Sb₂O₃/TiO₂","time":155,"intensity":452},{"sample":"3%-Sb₂O₃/TiO₂","time":160,"intensity":438},{"sample":"3%-Sb₂O₃/TiO₂","time":165,"intensity":424},{"sample":"3%-Sb₂O₃/TiO₂","time":170,"intensity":412},{"sample":"3%-Sb₂O₃/TiO₂","time":175,"intensity":402},{"sample":"3%-Sb₂O₃/TiO₂","time":180,"intensity":390},{"sample":"3%-Sb₂O₃/TiO₂","time":185,"intensity":372},{"sample":"3%-Sb₂O₃/TiO₂","time":190,"intensity":358},{"sample":"3%-Sb₂O₃/TiO₂","time":195,"intensity":348},{"sample":"3%-Sb₂O₃/TiO₂","time":200,"intensity":340},{"sample":"3%-Sb₂O₃/TiO₂","time":205,"intensity":337},{"sample":"3%-Sb₂O₃/TiO₂","time":210,"intensity":330},{"sample":"3%-Sb₂O₃/TiO₂","time":215,"intensity":318},{"sample":"3%-Sb₂O₃/TiO₂","time":220,"intensity":305},{"sample":"3%-Sb₂O₃/TiO₂","time":225,"intensity":297},{"sample":"3%-Sb₂O₃/TiO₂","time":230,"intensity":285},{"sample":"3%-Sb₂O₃/TiO₂","time":235,"intensity":270},{"sample":"3%-Sb₂O₃/TiO₂","time":240,"intensity":258},{"sample":"3%-Sb₂O₃/TiO₂","time":245,"intensity":248},{"sample":"3%-Sb₂O₃/TiO₂","time":250,"intensity":240},{"sample":"3%-Sb₂O₃/TiO₂","time":255,"intensity":228},{"sample":"3%-Sb₂O₃/TiO₂","time":260,"intensity":218},{"sample":"3%-Sb₂O₃/TiO₂","time":265,"intensity":208},{"sample":"3%-Sb₂O₃/TiO₂","time":270,"intensity":200},{"sample":"3%-Sb₂O₃/TiO₂","time":275,"intensity":193},{"sample":"3%-Sb₂O₃/TiO₂","time":280,"intensity":180},{"sample":"3%-Sb₂O₃/TiO₂","time":285,"intensity":168},{"sample":"3%-Sb₂O₃/TiO₂","time":290,"intensity":160},{"sample":"3%-Sb₂O₃/TiO₂","time":295,"intensity":156},{"sample":"3%-Sb₂O₃/TiO₂","time":300,"intensity":154},{"sample":"3%-Sb₂O₃/TiO₂","time":305,"intensity":140},{"sample":"3%-Sb₂O₃/TiO₂","time":310,"intensity":130},{"sample":"3%-Sb₂O₃/TiO₂","time":315,"intensity":126},{"sample":"3%-Sb₂O₃/TiO₂","time":320,"intensity":128},{"sample":"3%-Sb₂O₃/TiO₂","time":325,"intensity":124},{"sample":"3%-Sb₂O₃/TiO₂","time":330,"intensity":112},{"sample":"3%-Sb₂O₃/TiO₂","time":335,"intensity":108},{"sample":"3%-Sb₂O₃/TiO₂","time":340,"intensity":106},{"sample":"3%-Sb₂O₃/TiO₂","time":345,"intensity":108},{"sample":"3%-Sb₂O₃/TiO₂","time":350,"intensity":106},{"sample":"3%-Sb₂O₃/TiO₂","time":355,"intensity":100},{"sample":"3%-Sb₂O₃/TiO₂","time":360,"intensity":96},{"sample":"3%-Sb₂O₃/TiO₂","time":365,"intensity":100},{"sample":"3%-Sb₂O₃/TiO₂","time":370,"intensity":104},{"sample":"3%-Sb₂O₃/TiO₂","time":375,"intensity":98},{"sample":"3%-Sb₂O₃/TiO₂","time":380,"intensity":96},{"sample":"3%-Sb₂O₃/TiO₂","time":385,"intensity":104},{"sample":"3%-Sb₂O₃/TiO₂","time":390,"intensity":110},{"sample":"3%-Sb₂O₃/TiO₂","time":395,"intensity":106},{"sample":"3%-Sb₂O₃/TiO₂","time":400,"intensity":104},{"sample":"3%-Sb₂O₃/TiO₂","time":405,"intensity":98},{"sample":"3%-Sb₂O₃/TiO₂","time":410,"intensity":94},{"sample":"3%-Sb₂O₃/TiO₂","time":415,"intensity":96},{"sample":"3%-Sb₂O₃/TiO₂","time":420,"intensity":100},{"sample":"3%-Sb₂O₃/TiO₂","time":425,"intensity":98},{"sample":"3%-Sb₂O₃/TiO₂","time":430,"intensity":94},{"sample":"3%-Sb₂O₃/TiO₂","time":435,"intensity":96},{"sample":"3%-Sb₂O₃/TiO₂","time":440,"intensity":100},{"sample":"3%-Sb₂O₃/TiO₂","time":445,"intensity":106},{"sample":"3%-Sb₂O₃/TiO₂","time":450,"intensity":100},{"sample":"3%-Sb₂O₃/TiO₂","time":455,"intensity":98},{"sample":"3%-Sb₂O₃/TiO₂","time":460,"intensity":96},{"sample":"3%-Sb₂O₃/TiO₂","time":465,"intensity":90},{"sample":"3%-Sb₂O₃/TiO₂","time":470,"intensity":80},{"sample":"3%-Sb₂O₃/TiO₂","time":475,"intensity":68},{"sample":"3%-Sb₂O₃/TiO₂","time":480,"intensity":62},{"sample":"3%-Sb₂O₃/TiO₂","time":485,"intensity":60},{"sample":"3%-Sb₂O₃/TiO₂","time":490,"intensity":62},{"sample":"3%-Sb₂O₃/TiO₂","time":495,"intensity":58},{"sample":"3%-Sb₂O₃/TiO₂","time":500,"intensity":115},
{"sample":"1%-Sb₂O₃/TiO₂","time":20,"intensity":100},{"sample":"1%-Sb₂O₃/TiO₂","time":25,"intensity":118},{"sample":"1%-Sb₂O₃/TiO₂","time":30,"intensity":105},{"sample":"1%-Sb₂O₃/TiO₂","time":35,"intensity":98},{"sample":"1%-Sb₂O₃/TiO₂","time":40,"intensity":92},{"sample":"1%-Sb₂O₃/TiO₂","time":45,"intensity":90},{"sample":"1%-Sb₂O₃/TiO₂","time":46,"intensity":92},{"sample":"1%-Sb₂O₃/TiO₂","time":46.5,"intensity":95},{"sample":"1%-Sb₂O₃/TiO₂","time":47,"intensity":98},{"sample":"1%-Sb₂O₃/TiO₂","time":47.5,"intensity":104},{"sample":"1%-Sb₂O₃/TiO₂","time":48,"intensity":110},{"sample":"1%-Sb₂O₃/TiO₂","time":48.25,"intensity":115},{"sample":"1%-Sb₂O₃/TiO₂","time":48.5,"intensity":118},{"sample":"1%-Sb₂O₃/TiO₂","time":48.75,"intensity":125},{"sample":"1%-Sb₂O₃/TiO₂","time":49,"intensity":130},{"sample":"1%-Sb₂O₃/TiO₂","time":49.25,"intensity":137},{"sample":"1%-Sb₂O₃/TiO₂","time":49.5,"intensity":141},{"sample":"1%-Sb₂O₃/TiO₂","time":49.75,"intensity":149},{"sample":"1%-Sb₂O₃/TiO₂","time":50,"intensity":155},{"sample":"1%-Sb₂O₃/TiO₂","time":50.25,"intensity":163},{"sample":"1%-Sb₂O₃/TiO₂","time":50.5,"intensity":168},{"sample":"1%-Sb₂O₃/TiO₂","time":50.75,"intensity":178},{"sample":"1%-Sb₂O₃/TiO₂","time":51,"intensity":186},{"sample":"1%-Sb₂O₃/TiO₂","time":51.25,"intensity":193},{"sample":"1%-Sb₂O₃/TiO₂","time":51.5,"intensity":205},{"sample":"1%-Sb₂O₃/TiO₂","time":51.75,"intensity":213},{"sample":"1%-Sb₂O₃/TiO₂","time":52,"intensity":226},{"sample":"1%-Sb₂O₃/TiO₂","time":52.25,"intensity":237},{"sample":"1%-Sb₂O₃/TiO₂","time":52.5,"intensity":252},{"sample":"1%-Sb₂O₃/TiO₂","time":52.75,"intensity":264},{"sample":"1%-Sb₂O₃/TiO₂","time":53,"intensity":281},{"sample":"1%-Sb₂O₃/TiO₂","time":53.25,"intensity":294},{"sample":"1%-Sb₂O₃/TiO₂","time":53.5,"intensity":311},{"sample":"1%-Sb₂O₃/TiO₂","time":53.75,"intensity":324},{"sample":"1%-Sb₂O₃/TiO₂","time":54,"intensity":341},{"sample":"1%-Sb₂O₃/TiO₂","time":54.25,"intensity":356},{"sample":"1%-Sb₂O₃/TiO₂","time":54.5,"intensity":375},{"sample":"1%-Sb₂O₃/TiO₂","time":54.75,"intensity":391},{"sample":"1%-Sb₂O₃/TiO₂","time":55,"intensity":411},{"sample":"1%-Sb₂O₃/TiO₂","time":55.25,"intensity":427},{"sample":"1%-Sb₂O₃/TiO₂","time":55.5,"intensity":446},{"sample":"1%-Sb₂O₃/TiO₂","time":55.75,"intensity":461},{"sample":"1%-Sb₂O₃/TiO₂","time":56,"intensity":481},{"sample":"1%-Sb₂O₃/TiO₂","time":56.25,"intensity":496},{"sample":"1%-Sb₂O₃/TiO₂","time":56.5,"intensity":516},{"sample":"1%-Sb₂O₃/TiO₂","time":56.75,"intensity":531},{"sample":"1%-Sb₂O₃/TiO₂","time":57,"intensity":551},{"sample":"1%-Sb₂O₃/TiO₂","time":57.25,"intensity":566},{"sample":"1%-Sb₂O₃/TiO₂","time":57.5,"intensity":586},{"sample":"1%-Sb₂O₃/TiO₂","time":57.75,"intensity":601},{"sample":"1%-Sb₂O₃/TiO₂","time":58,"intensity":621},{"sample":"1%-Sb₂O₃/TiO₂","time":58.25,"intensity":636},{"sample":"1%-Sb₂O₃/TiO₂","time":58.5,"intensity":656},{"sample":"1%-Sb₂O₃/TiO₂","time":58.75,"intensity":671},{"sample":"1%-Sb₂O₃/TiO₂","time":59,"intensity":691},{"sample":"1%-Sb₂O₃/TiO₂","time":59.25,"intensity":706},{"sample":"1%-Sb₂O₃/TiO₂","time":59.5,"intensity":726},{"sample":"1%-Sb₂O₃/TiO₂","time":59.75,"intensity":741},{"sample":"1%-Sb₂O₃/TiO₂","time":60,"intensity":761},{"sample":"1%-Sb₂O₃/TiO₂","time":60.25,"intensity":776},{"sample":"1%-Sb₂O₃/TiO₂","time":60.5,"intensity":794},{"sample":"1%-Sb₂O₃/TiO₂","time":60.75,"intensity":808},{"sample":"1%-Sb₂O₃/TiO₂","time":61,"intensity":826},{"sample":"1%-Sb₂O₃/TiO₂","time":61.25,"intensity":838},{"sample":"1%-Sb₂O₃/TiO₂","time":61.5,"intensity":854},{"sample":"1%-Sb₂O₃/TiO₂","time":61.75,"intensity":866},{"sample":"1%-Sb₂O₃/TiO₂","time":62,"intensity":881},{"sample":"1%-Sb₂O₃/TiO₂","time":62.25,"intensity":889},{"sample":"1%-Sb₂O₃/TiO₂","time":62.5,"intensity":901},{"sample":"1%-Sb₂O₃/TiO₂","time":62.75,"intensity":909},{"sample":"1%-Sb₂O₃/TiO₂","time":63,"intensity":916},{"sample":"1%-Sb₂O₃/TiO₂","time":63.25,"intensity":918},{"sample":"1%-Sb₂O₃/TiO₂","time":63.5,"intensity":912},{"sample":"1%-Sb₂O₃/TiO₂","time":63.75,"intensity":900},{"sample":"1%-Sb₂O₃/TiO₂","time":64,"intensity":885},{"sample":"1%-Sb₂O₃/TiO₂","time":64.5,"intensity":860},{"sample":"1%-Sb₂O₃/TiO₂","time":65,"intensity":838},{"sample":"1%-Sb₂O₃/TiO₂","time":65.5,"intensity":822},{"sample":"1%-Sb₂O₃/TiO₂","time":66,"intensity":810},{"sample":"1%-Sb₂O₃/TiO₂","time":67,"intensity":798},{"sample":"1%-Sb₂O₃/TiO₂","time":68,"intensity":790},{"sample":"1%-Sb₂O₃/TiO₂","time":70,"intensity":772},{"sample":"1%-Sb₂O₃/TiO₂","time":75,"intensity":745},{"sample":"1%-Sb₂O₃/TiO₂","time":80,"intensity":722},{"sample":"1%-Sb₂O₃/TiO₂","time":85,"intensity":700},{"sample":"1%-Sb₂O₃/TiO₂","time":90,"intensity":684},{"sample":"1%-Sb₂O₃/TiO₂","time":95,"intensity":665},{"sample":"1%-Sb₂O₃/TiO₂","time":100,"intensity":650},{"sample":"1%-Sb₂O₃/TiO₂","time":105,"intensity":636},{"sample":"1%-Sb₂O₃/TiO₂","time":110,"intensity":622},{"sample":"1%-Sb₂O₃/TiO₂","time":115,"intensity":608},{"sample":"1%-Sb₂O₃/TiO₂","time":120,"intensity":596},{"sample":"1%-Sb₂O₃/TiO₂","time":125,"intensity":584},{"sample":"1%-Sb₂O₃/TiO₂","time":130,"intensity":575},{"sample":"1%-Sb₂O₃/TiO₂","time":135,"intensity":560},{"sample":"1%-Sb₂O₃/TiO₂","time":140,"intensity":548},{"sample":"1%-Sb₂O₃/TiO₂","time":145,"intensity":540},{"sample":"1%-Sb₂O₃/TiO₂","time":150,"intensity":530},{"sample":"1%-Sb₂O₃/TiO₂","time":155,"intensity":512},{"sample":"1%-Sb₂O₃/TiO₂","time":160,"intensity":498},{"sample":"1%-Sb₂O₃/TiO₂","time":165,"intensity":486},{"sample":"1%-Sb₂O₃/TiO₂","time":170,"intensity":472},{"sample":"1%-Sb₂O₃/TiO₂","time":175,"intensity":460},{"sample":"1%-Sb₂O₃/TiO₂","time":180,"intensity":448},{"sample":"1%-Sb₂O₃/TiO₂","time":185,"intensity":434},{"sample":"1%-Sb₂O₃/TiO₂","time":190,"intensity":420},{"sample":"1%-Sb₂O₃/TiO₂","time":195,"intensity":408},{"sample":"1%-Sb₂O₃/TiO₂","time":200,"intensity":398},{"sample":"1%-Sb₂O₃/TiO₂","time":205,"intensity":385},{"sample":"1%-Sb₂O₃/TiO₂","time":210,"intensity":370},{"sample":"1%-Sb₂O₃/TiO₂","time":215,"intensity":360},{"sample":"1%-Sb₂O₃/TiO₂","time":220,"intensity":352},{"sample":"1%-Sb₂O₃/TiO₂","time":225,"intensity":345},{"sample":"1%-Sb₂O₃/TiO₂","time":230,"intensity":330},{"sample":"1%-Sb₂O₃/TiO₂","time":235,"intensity":315},{"sample":"1%-Sb₂O₃/TiO₂","time":240,"intensity":300},{"sample":"1%-Sb₂O₃/TiO₂","time":245,"intensity":296},{"sample":"1%-Sb₂O₃/TiO₂","time":250,"intensity":288},{"sample":"1%-Sb₂O₃/TiO₂","time":255,"intensity":275},{"sample":"1%-Sb₂O₃/TiO₂","time":260,"intensity":265},{"sample":"1%-Sb₂O₃/TiO₂","time":265,"intensity":258},{"sample":"1%-Sb₂O₃/TiO₂","time":270,"intensity":250},{"sample":"1%-Sb₂O₃/TiO₂","time":275,"intensity":248},{"sample":"1%-Sb₂O₃/TiO₂","time":280,"intensity":228},{"sample":"1%-Sb₂O₃/TiO₂","time":285,"intensity":212},{"sample":"1%-Sb₂O₃/TiO₂","time":290,"intensity":212},{"sample":"1%-Sb₂O₃/TiO₂","time":295,"intensity":205},{"sample":"1%-Sb₂O₃/TiO₂","time":300,"intensity":192},{"sample":"1%-Sb₂O₃/TiO₂","time":305,"intensity":180},{"sample":"1%-Sb₂O₃/TiO₂","time":310,"intensity":182},{"sample":"1%-Sb₂O₃/TiO₂","time":315,"intensity":186},{"sample":"1%-Sb₂O₃/TiO₂","time":320,"intensity":188},{"sample":"1%-Sb₂O₃/TiO₂","time":325,"intensity":184},{"sample":"1%-Sb₂O₃/TiO₂","time":330,"intensity":170},{"sample":"1%-Sb₂O₃/TiO₂","time":335,"intensity":158},{"sample":"1%-Sb₂O₃/TiO₂","time":340,"intensity":148},{"sample":"1%-Sb₂O₃/TiO₂","time":345,"intensity":138},{"sample":"1%-Sb₂O₃/TiO₂","time":350,"intensity":132},{"sample":"1%-Sb₂O₃/TiO₂","time":355,"intensity":136},{"sample":"1%-Sb₂O₃/TiO₂","time":360,"intensity":148},{"sample":"1%-Sb₂O₃/TiO₂","time":365,"intensity":150},{"sample":"1%-Sb₂O₃/TiO₂","time":370,"intensity":140},{"sample":"1%-Sb₂O₃/TiO₂","time":375,"intensity":138},{"sample":"1%-Sb₂O₃/TiO₂","time":380,"intensity":126},{"sample":"1%-Sb₂O₃/TiO₂","time":385,"intensity":130},{"sample":"1%-Sb₂O₃/TiO₂","time":390,"intensity":122},{"sample":"1%-Sb₂O₃/TiO₂","time":395,"intensity":110},{"sample":"1%-Sb₂O₃/TiO₂","time":400,"intensity":108},{"sample":"1%-Sb₂O₃/TiO₂","time":405,"intensity":112},{"sample":"1%-Sb₂O₃/TiO₂","time":410,"intensity":104},{"sample":"1%-Sb₂O₃/TiO₂","time":415,"intensity":100},{"sample":"1%-Sb₂O₃/TiO₂","time":420,"intensity":98},{"sample":"1%-Sb₂O₃/TiO₂","time":425,"intensity":96},{"sample":"1%-Sb₂O₃/TiO₂","time":430,"intensity":104},{"sample":"1%-Sb₂O₃/TiO₂","time":435,"intensity":106},{"sample":"1%-Sb₂O₃/TiO₂","time":440,"intensity":106},{"sample":"1%-Sb₂O₃/TiO₂","time":445,"intensity":100},{"sample":"1%-Sb₂O₃/TiO₂","time":450,"intensity":98},{"sample":"1%-Sb₂O₃/TiO₂","time":455,"intensity":102},{"sample":"1%-Sb₂O₃/TiO₂","time":460,"intensity":98},{"sample":"1%-Sb₂O₃/TiO₂","time":465,"intensity":100},{"sample":"1%-Sb₂O₃/TiO₂","time":470,"intensity":90},{"sample":"1%-Sb₂O₃/TiO₂","time":475,"intensity":80},{"sample":"1%-Sb₂O₃/TiO₂","time":480,"intensity":70},{"sample":"1%-Sb₂O₃/TiO₂","time":485,"intensity":78},{"sample":"1%-Sb₂O₃/TiO₂","time":490,"intensity":86},{"sample":"1%-Sb₂O₃/TiO₂","time":495,"intensity":88},{"sample":"1%-Sb₂O₃/TiO₂","time":500,"intensity":84},{"sample":"1%-Sb₂O₃/TiO₂","time":500,"intensity":62},{"sample":"1%-Sb₂O₃/TiO₂","time":500,"intensity":40},{"sample":"1%-Sb₂O₃/TiO₂","time":500,"intensity":20}
  ]},
  "mark": {"type": "circle", "size": 80, "opacity": 1, "clip": true},
  "encoding": {
    "x": {"field": "time", "type": "quantitative", "scale": {"domain": [18.75, 500], "nice": false, "zero": false},
      "axis": {"title": "Decay time (ns)", "values": [25,50,75,100,125,150,175,200,225,250,275,300,325,350,375,400,425,450,475,500], "labelExpr": "datum.value % 50 === 0 ? datum.label : ''", "tickSize": 4, "labelPadding": 2, "titlePadding": 2, "labelFlush": false, "labelOverlap": false}},
    "y": {"field": "intensity", "type": "quantitative", "scale": {"domain": [0, 1000], "nice": false},
      "axis": {"title": "Intensity (a.u)", "labels": false, "ticks": false, "titlePadding": 15}},
    "color": {"field": "sample", "type": "nominal",
      "scale": {"domain": ["TiO₂","1%-Sb₂O₃/TiO₂","3%-Sb₂O₃/TiO₂","7%-Sb₂O₃/TiO₂","10%-Sb₂O₃/TiO₂"], "range": ["#565656","#3db574","#ff8c33","#a3891a","#de1a1a"]},
      "legend": {"title": null, "orient": "none", "legendX": 191, "legendY": 24, "symbolType": "circle", "symbolSize": 55, "symbolOpacity": 1, "symbolStrokeWidth": 0, "labelOffset": 12, "rowPadding": 10, "padding": 0}}
  }
}
]
}
